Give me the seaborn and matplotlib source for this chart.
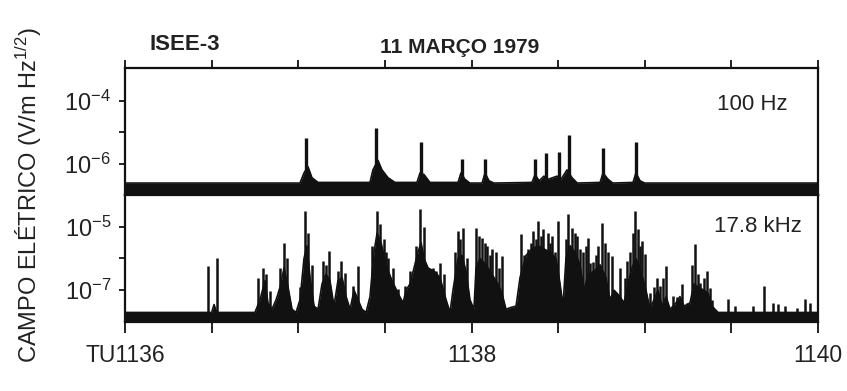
import numpy as np
import matplotlib.pyplot as plt
import seaborn as sns
from matplotlib.ticker import NullLocator

# =========================================================
# DATA (time in minutes after 11:36 UT, levels as log10 of V/m Hz^1/2)
# =========================================================

# 100 Hz channel: noise floor with a bump under each burst
env100_t = [0.0, 1.010, 1.033, 1.056, 1.079, 1.114, 1.414, 1.431, 1.460, 1.483,
            1.518, 1.558, 1.685, 1.703, 1.726, 1.760, 1.922, 1.939, 1.962, 1.990,
            2.061, 2.078, 2.101, 2.130, 2.349, 2.367, 2.390, 2.418, 2.442, 2.494,
            2.517, 2.551, 2.580, 2.610, 2.742, 2.759, 2.788, 2.815, 2.932, 2.949,
            2.973, 3.000, 4.0]
env100_lvl = [-6.62, -6.62, -6.30, -6.10, -6.45, -6.60, -6.60, -6.20, -5.90, -6.20,
              -6.45, -6.60, -6.60, -6.30, -6.35, -6.60, -6.60, -6.30, -6.50, -6.62,
              -6.62, -6.30, -6.55, -6.62, -6.60, -6.35, -6.55, -6.40, -6.50, -6.40,
              -6.50, -6.20, -6.45, -6.62, -6.60, -6.30, -6.50, -6.62, -6.60, -6.30,
              -6.55, -6.62, -6.62]

# 100 Hz bursts (peak time, peak level)
peak100_t = [1.045, 1.449, 1.709, 1.945, 2.078, 2.367, 2.430, 2.505, 2.563, 2.759, 2.950]
peak100_lvl = [-5.20, -4.86, -5.30, -5.87, -5.87, -5.87, -5.65, -5.62, -5.08, -5.50, -5.30]

# 17.8 kHz channel: dense envelope of the burst clusters
env178_t = [0.0, 0.456, 0.500, 0.514, 0.528, 0.750, 0.779, 0.808, 0.825, 0.848,
            0.872, 0.895, 0.918, 0.941, 0.964, 0.987, 1.010, 1.033, 1.050, 1.068,
            1.091, 1.114, 1.137, 1.160, 1.183, 1.206, 1.229, 1.253, 1.276, 1.299,
            1.322, 1.345, 1.368, 1.391, 1.414, 1.437, 1.455, 1.478, 1.506, 1.541,
            1.576, 1.605, 1.622, 1.645, 1.668, 1.691, 1.709, 1.726, 1.749, 1.784,
            1.818, 1.853, 1.876, 1.893, 1.922, 1.945, 1.968, 1.991, 2.014, 2.026,
            2.049, 2.084, 2.118, 2.153, 2.176, 2.199, 2.222, 2.257, 2.280, 2.315,
            2.349, 2.384, 2.418, 2.453, 2.488, 2.511, 2.528, 2.545, 2.569, 2.597,
            2.626, 2.649, 2.672, 2.707, 2.742, 2.776, 2.799, 2.823, 2.857, 2.880,
            2.903, 2.926, 2.949, 2.973, 3.007, 3.030, 3.053, 3.076, 3.100, 3.123,
            3.146, 3.180, 3.203, 3.227, 3.261, 3.284, 3.307, 3.342, 3.365, 3.388,
            3.423, 4.0]
env178_lvl = [-7.70, -7.70, -7.70, -7.45, -7.70, -7.70, -7.30, -6.70, -7.40, -7.60,
              -7.30, -6.90, -6.30, -6.90, -7.60, -7.70, -7.30, -6.00, -5.60, -6.60,
              -7.50, -7.60, -6.80, -6.50, -6.70, -7.50, -6.70, -6.60, -7.20, -7.60,
              -7.00, -7.30, -7.60, -7.70, -7.20, -5.80, -5.20, -5.50, -6.20, -6.70,
              -7.10, -7.40, -7.00, -6.80, -6.30, -5.80, -5.50, -6.00, -6.30, -6.40,
              -6.60, -7.30, -7.70, -7.00, -6.00, -5.90, -6.40, -7.30, -7.60, -6.30,
              -6.00, -6.20, -6.50, -6.80, -7.10, -7.60, -7.55, -7.50, -6.60, -5.90,
              -5.70, -5.60, -5.70, -5.80, -6.00, -6.80, -7.50, -6.00, -5.60, -5.80,
              -6.20, -7.00, -6.50, -6.40, -6.20, -6.60, -7.30, -7.00, -7.20, -7.40,
              -6.80, -6.30, -6.00, -6.30, -7.00, -7.60, -7.30, -7.00, -7.50, -7.20,
              -7.60, -7.40, -7.20, -7.50, -7.40, -6.80, -6.90, -7.00, -7.10, -7.50,
              -7.70, -7.70]

# 17.8 kHz tallest spikes (time, peak level)
peak178_t = [0.477, 0.533, 0.768, 0.797, 0.814, 0.837, 0.919, 1.039, 1.145, 1.177,
             1.247, 1.270, 1.316, 1.343, 1.453, 1.472, 1.518, 1.547, 1.576, 1.616,
             1.645, 1.703, 1.749, 1.778, 1.818, 1.922, 1.951, 2.026, 2.061, 2.089,
             2.118, 2.176, 2.286, 2.326, 2.355, 2.384, 2.413, 2.442, 2.465, 2.499,
             2.557, 2.580, 2.609, 2.626, 2.672, 2.684, 2.730, 2.753, 2.811, 2.857,
             2.898, 2.944, 2.961, 2.984, 3.001, 3.030, 3.071, 3.088, 3.123, 3.163,
             3.215, 3.244, 3.290, 3.319, 3.359, 3.377, 3.480, 3.625, 3.688, 3.740,
             3.769, 3.879, 3.925]
peak178_lvl = [-6.24, -5.97, -6.60, -6.30, -6.50, -7.03, -5.50, -4.49, -6.08, -5.76,
               -6.08, -6.45, -6.87, -6.24, -4.49, -4.90, -6.00, -6.30, -6.97, -6.87,
               -6.40, -4.43, -6.33, -6.30, -6.14, -5.13, -5.03, -5.03, -5.35, -5.60,
               -5.70, -5.92, -5.22, -5.70, -5.13, -4.81, -5.06, -5.19, -5.30, -4.81,
               -4.59, -5.03, -5.29, -5.70, -5.35, -6.14, -5.60, -4.87, -5.92, -6.30,
               -6.08, -4.49, -5.06, -5.44, -5.86, -7.10, -6.62, -6.87, -6.24, -7.19,
               -6.81, -7.40, -5.54, -6.78, -6.40, -6.94, -7.29, -7.50, -6.87, -7.40,
               -7.44, -7.57, -7.29]

# 17.8 kHz finer spikes inside the clusters
comb178_t = [0.895, 0.935, 1.010, 1.056, 1.079, 1.160, 1.229, 1.426, 1.495, 1.506,
             1.680, 1.726, 1.795, 1.841, 1.905, 1.934, 1.974, 2.043, 2.078, 2.107,
             2.141, 2.159, 2.303, 2.343, 2.372, 2.401, 2.453, 2.482, 2.545, 2.597,
             2.644, 2.661, 2.701, 2.719, 2.771, 2.788, 2.886, 2.915, 2.932, 2.973,
             3.053, 3.105, 3.186, 3.273, 3.307, 3.342, 3.388, 3.521, 3.810, 3.954]
comb178_lvl = [-6.30, -6.00, -6.90, -5.20, -6.20, -6.20, -6.40, -5.60, -5.40, -5.80,
               -5.60, -5.00, -6.40, -6.50, -5.80, -5.40, -6.00, -5.30, -5.50, -5.90,
               -5.80, -6.30, -5.90, -5.50, -5.40, -5.30, -5.50, -5.80, -5.40, -5.20,
               -5.80, -5.60, -6.10, -5.90, -5.50, -5.80, -6.60, -5.80, -5.20, -5.60,
               -6.90, -6.60, -7.20, -6.20, -6.50, -6.60, -7.30, -7.50, -7.50, -7.40]

time_ticks = [0.0, 0.5, 1.0, 1.5, 2.0, 2.5, 3.0, 3.5, 4.0]
time_labels = ["TU1136", "", "", "", "1138", "", "", "", "1140"]

top_yticks = [1e-6, 1e-5, 1e-4]
top_ylabels = ["$10^{-6}$", "", "$10^{-4}$"]
bot_yticks = [1e-7, 1e-6, 1e-5]
bot_ylabels = ["$10^{-7}$", "", "$10^{-5}$"]

# =========================================================
# STYLE
# =========================================================

sns.set_theme(style="ticks")
plt.rcParams["font.family"] = ["Liberation Sans", "DejaVu Sans"]
plt.rcParams["mathtext.fontset"] = "custom"
plt.rcParams["mathtext.rm"] = "Liberation Sans"
plt.rcParams["mathtext.it"] = "Liberation Sans:italic"
plt.rcParams["mathtext.bf"] = "Liberation Sans:bold"

ink = "#111111"
txt = "#222222"

fig = plt.figure(figsize=(8.47, 3.91), dpi=100)
ax_top = fig.add_axes([0.1476, 0.5013, 0.8182, 0.3248])
ax_bot = fig.add_axes([0.1476, 0.1765, 0.8182, 0.3248])

# =========================================================
# PANELS
# =========================================================

panels = [
    (ax_top, env100_t, env100_lvl, [peak100_t], [peak100_lvl], (1e-7, 1.1e-3), 2.4),
    (ax_bot, env178_t, env178_lvl, [peak178_t, comb178_t],
     [peak178_lvl, comb178_lvl], (1e-8, 1e-4), 1.8),
]

for ax, et, el, pts, pls, ylim, lw in panels:
    ax.set_yscale("log")
    ax.set_xlim(0, 4)
    ax.set_ylim(*ylim)

    env = 10.0 ** np.array(el)
    ax.fill_between(et, ylim[0], env, color=ink, lw=0)
    sns.lineplot(x=et, y=env, ax=ax, color=ink, lw=1.2, sort=False)

    for pt, pl in zip(pts, pls):
        ax.vlines(pt, ylim[0], 10.0 ** np.array(pl), color=ink, lw=lw)

    for side in ["left", "right", "top", "bottom"]:
        ax.spines[side].set_linewidth(1.6)
        ax.spines[side].set_color(ink)

    ax.yaxis.set_minor_locator(NullLocator())
    ax.xaxis.set_minor_locator(NullLocator())
    ax.tick_params(axis="y", direction="out", length=4, width=1.3,
                   color=ink, labelsize=17, labelcolor=txt, pad=6)

ax_top.set_yticks(top_yticks)
ax_top.set_yticklabels(top_ylabels)
ax_bot.set_yticks(bot_yticks)
ax_bot.set_yticklabels(bot_ylabels)

ax_top.set_xticks(time_ticks)
ax_top.xaxis.set_ticks_position("top")
ax_top.tick_params(axis="x", direction="out", length=6, width=1.3,
                   color=ink, labeltop=False, labelbottom=False)

ax_bot.set_xticks(time_ticks)
ax_bot.set_xticklabels(time_labels)
ax_bot.xaxis.set_ticks_position("bottom")
ax_bot.tick_params(axis="x", direction="out", length=8, width=1.3,
                   color=ink, labelsize=16.5, labelcolor=txt, pad=8)

# =========================================================
# LABELS
# =========================================================

ax_top.text(0.905, 0.71, "100 Hz", transform=ax_top.transAxes,
            ha="center", va="center", fontsize=16, color=txt)
ax_bot.text(0.913, 0.75, "17.8 kHz", transform=ax_bot.transAxes,
            ha="center", va="center", fontsize=16, color=txt)

fig.text(0.218, 0.885, "ISEE-3", ha="center", va="center",
         fontsize=16, fontweight="bold", color=txt)
fig.text(0.543, 0.878, "11 MARÇO 1979", ha="center", va="center",
         fontsize=15, fontweight="bold", color=txt)

fig.text(0.034, 0.5, "CAMPO ELÉTRICO (V/m Hz$^{1/2}$)", rotation=90,
         ha="center", va="center", fontsize=17, color=txt)

fig.savefig("out.png", dpi=100, facecolor="white")
